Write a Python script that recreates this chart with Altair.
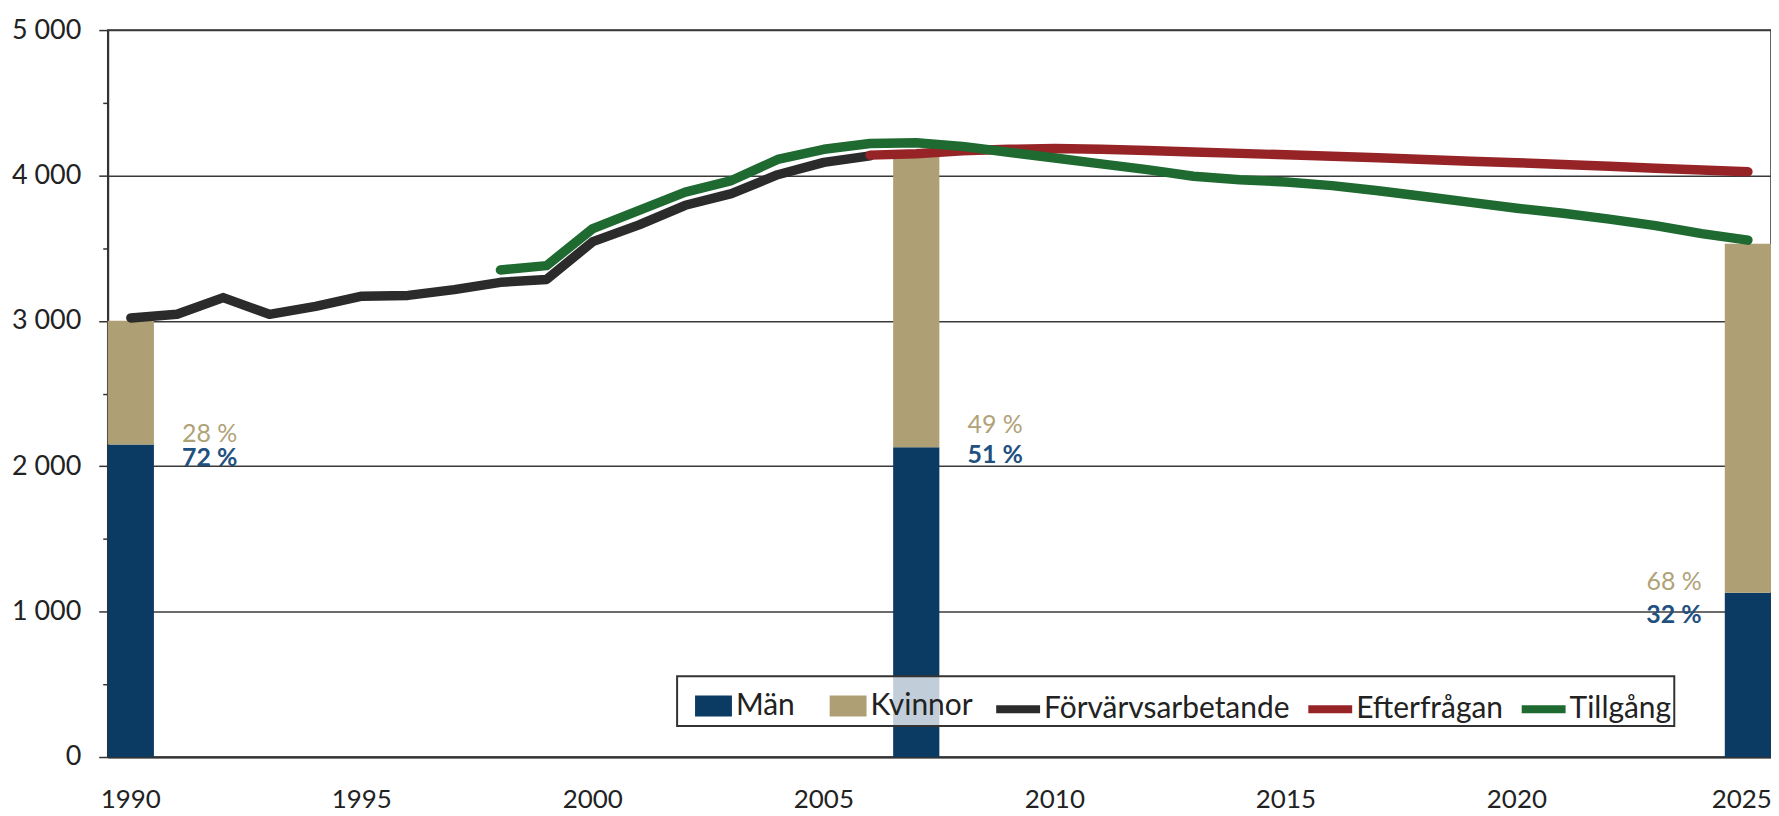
import altair as alt
import pandas as pd

# ---------------- data ----------------
years_all = list(range(1990, 2026))

bar_years = [1990, 2007, 2025]
man_values = [2150, 2130, 1130]
kvinnor_values = [850, 2040, 2400]

forv_years = list(range(1990, 2007))
forv_values = [3020, 3045, 3160, 3045, 3100, 3170, 3175, 3215, 3265, 3285,
               3545, 3660, 3795, 3875, 4005, 4090, 4135]

eft_years = list(range(2006, 2026))
eft_values = [4140, 4150, 4170, 4180, 4185, 4180, 4172, 4162, 4152, 4142,
              4132, 4122, 4110, 4098, 4088, 4075, 4063, 4050, 4038, 4025]

till_years = list(range(1998, 2026))
till_values = [3350, 3380, 3635, 3760, 3885, 3965, 4110, 4180, 4220, 4225,
               4200, 4160, 4120, 4080, 4040, 3995, 3970, 3955, 3930, 3895,
               3855, 3815, 3775, 3740, 3700, 3655, 3600, 3555]

pct_years = [1991, 1991, 2008, 2008, 2024, 2024]
pct_values = [2225, 2058, 2285, 2080, 1205, 980]
pct_texts = ["28 %", "72 %", "49 %", "51 %", "68 %", "32 %"]
pct_groups = ["Kvinnor", "Män", "Kvinnor", "Män", "Kvinnor", "Män"]
pct_sides = ["left", "left", "left", "left", "right", "right"]

bar_series = ["Män", "Kvinnor"]
bar_colors = ["#0b3a63", "#ae9f75"]
line_series = ["Förvärvsarbetande", "Efterfrågan", "Tillgång"]
line_colors = ["#2b2b2b", "#962427", "#1f6a30"]

y_tick_values = list(range(0, 5001, 500))
x_label_values = [1990, 1995, 2000, 2005, 2010, 2015, 2020, 2025]

# ---------------- tables ----------------
bars = pd.DataFrame(
    [{"year": y, "kon": "Män", "ord": 0, "value": m} for y, m in zip(bar_years, man_values)]
    + [{"year": y, "kon": "Kvinnor", "ord": 1, "value": k} for y, k in zip(bar_years, kvinnor_values)]
)
lines = pd.DataFrame(
    [{"year": y, "serie": "Förvärvsarbetande", "value": v} for y, v in zip(forv_years, forv_values)]
    + [{"year": y, "serie": "Efterfrågan", "value": v} for y, v in zip(eft_years, eft_values)]
    + [{"year": y, "serie": "Tillgång", "value": v} for y, v in zip(till_years, till_values)]
)
labels = pd.DataFrame({"year": pct_years, "value": pct_values, "text": pct_texts,
                       "grp": pct_groups, "side": pct_sides})

FONT = "Lato"

x_enc = alt.X("year:O",
              scale=alt.Scale(domain=years_all, paddingInner=0, paddingOuter=0),
              axis=alt.Axis(values=x_label_values, labelAngle=0, ticks=False, grid=False,
                            domainColor="#333333", domainWidth=2, labelPadding=30,
                            labelAlign={"condition": {"test": "datum.value == 2025", "value": "right"},
                                        "value": "center"},
                            labelOffset={"condition": {"test": "datum.value == 2025", "value": 24},
                                         "value": 0},
                            labelFont=FONT, labelFontSize=26, labelColor="#222222",
                            title=None))
y_scale = alt.Scale(domain=[0, 5000], nice=False)
y_axis = alt.Axis(values=y_tick_values,
                  labelExpr="datum.value % 1000 === 0 ? replace(format(datum.value, ','), ',', ' ') : ''",
                  tickSize={"condition": {"test": "datum.value % 1000 === 0", "value": 9}, "value": 5},
                  gridOpacity={"condition": {"test": "datum.value % 1000 !== 0", "value": 0}, "value": 1},
                  grid=True, gridColor="#3a3a3a", gridWidth=1.5,
                  domainColor="#333333", domainWidth=2, tickColor="#333333", tickWidth=1.5,
                  labelFont=FONT, labelFontSize=27, labelColor="#222222",
                  labelPadding=18, title=None)

bar_layer = alt.Chart(bars).mark_bar().encode(
    x=x_enc,
    y=alt.Y("value:Q", stack="zero", scale=y_scale, axis=y_axis),
    fill=alt.Fill("kon:N", scale=alt.Scale(domain=bar_series, range=bar_colors),
                  legend=alt.Legend(title=None, orient="none", legendX=589, legendY=659,
                                    direction="horizontal",
                                    symbolType="M-1,-0.57L1,-0.57L1,0.57L-1,0.57Z",
                                    symbolSize=1369, symbolStrokeWidth=0, symbolOpacity=1,
                                    labelFont=FONT, labelFontSize=30, labelColor="#222222",
                                    labelOffset=4, columnPadding=34, padding=0, labelLimit=500)),
    order=alt.Order("ord:Q"),
)

box = alt.Chart(pd.DataFrame({"k": [0]})).mark_rect(
    fill="white", fillOpacity=0.75, stroke="#333333", strokeWidth=2
).encode(x=alt.value(571), x2=alt.value(1571), y=alt.value(648), y2=alt.value(698))

line_layer = alt.Chart(lines).mark_line(strokeWidth=9.5, strokeCap="round", strokeJoin="round").encode(
    x=x_enc,
    y=alt.Y("value:Q", scale=y_scale),
    stroke=alt.Stroke("serie:N", scale=alt.Scale(domain=line_series, range=line_colors),
                      sort=line_series,
                      legend=alt.Legend(title=None, orient="none", legendX=887, legendY=655,
                                        direction="horizontal", symbolType="stroke",
                                        symbolSize=1936, symbolStrokeWidth=8,
                                        labelFont=FONT, labelFontSize=30, labelColor="#222222",
                                        labelOffset=0, columnPadding=2, padding=0, labelLimit=500)),
    order=alt.Order("year:Q"),
)


def text_layer(grp, side, color, weight):
    return alt.Chart(labels).transform_filter(
        (alt.datum.grp == grp) & (alt.datum.side == side)
    ).mark_text(
        align=side, baseline="middle", font=FONT, fontSize=25,
        fontWeight=weight, color=color, dx=(5 if side == "left" else 0)
    ).encode(x=x_enc, y=alt.Y("value:Q", scale=y_scale), text="text:N")


texts = [
    text_layer("Kvinnor", "left", "#b0a278", "normal"),
    text_layer("Män", "left", "#22507f", "bold"),
    text_layer("Kvinnor", "right", "#b0a278", "normal"),
    text_layer("Män", "right", "#22507f", "bold"),
]

chart = alt.layer(bar_layer, box, line_layer, *texts).resolve_scale(
    fill="independent", stroke="independent"
).properties(
    width=1668, height=729,
    padding={"left": 100, "top": 21, "right": 0, "bottom": 56},
    autosize=alt.AutoSizeParams(type="none"),
).configure_view(stroke="#333333", strokeWidth=1.5)

chart.save("out.html", embed_options={"renderer": "svg", "actions": False})
